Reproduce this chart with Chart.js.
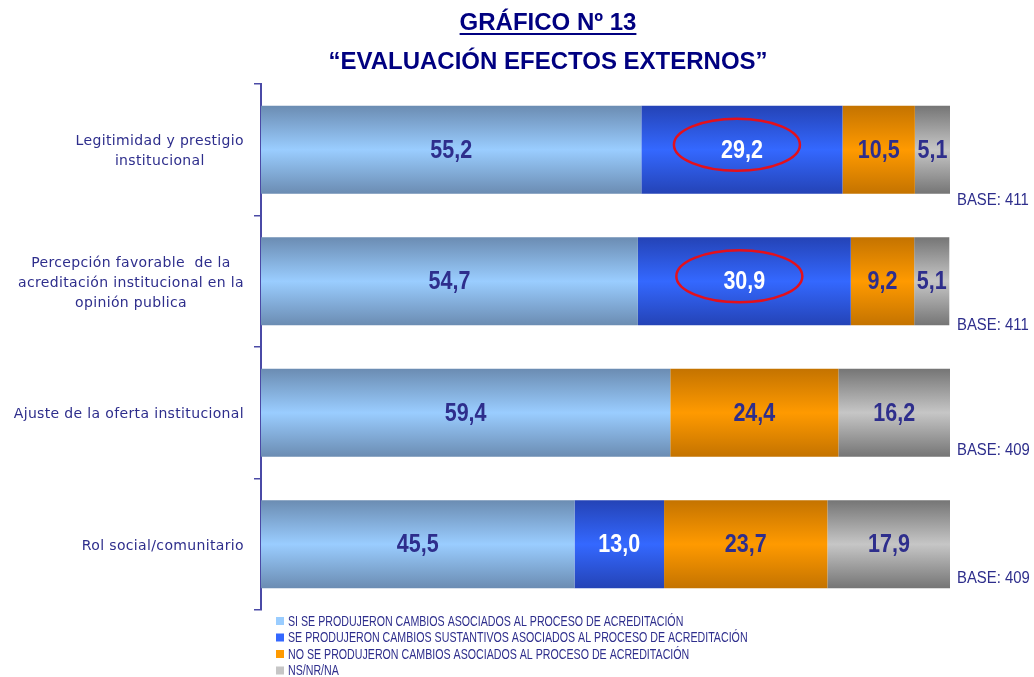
<!DOCTYPE html>
<html>
<head>
<meta charset="utf-8">
<script src="https://cdn.jsdelivr.net/npm/chart.js@4.4.1/dist/chart.umd.min.js"></script>
<style>
  html, body { margin: 0; padding: 0; background: #fff; }
  #wrap { position: relative; width: 1034px; height: 677px; }
</style>
</head>
<body>
<div id="wrap"><canvas id="grafico"></canvas></div>
<script>
// Datos del gráfico
const categorias = [
  ["Legitimidad y prestigio", "institucional"],
  ["Percepción favorable  de la", "acreditación institucional en la", "opinión publica"],
  ["Ajuste de la oferta institucional"],
  ["Rol social/comunitario"]
];
const siCambios = [55.2, 54.7, 59.4, 45.5];
const cambiosSustantivos = [29.2, 30.9, 0, 13.0];
const noCambios = [10.5, 9.2, 24.4, 23.7];
const nsNrNa = [5.1, 5.1, 16.2, 17.9];
const bases = ["BASE: 411", "BASE: 411", "BASE: 409", "BASE: 409"];
const nombresSeries = [
  "SI SE PRODUJERON CAMBIOS ASOCIADOS AL PROCESO DE ACREDITACIÓN",
  "SE PRODUJERON CAMBIOS SUSTANTIVOS ASOCIADOS AL PROCESO DE ACREDITACIÓN",
  "NO SE PRODUJERON CAMBIOS ASOCIADOS AL PROCESO DE ACREDITACIÓN",
  "NS/NR/NA"
];
// [serie, categoría] marcados con elipse roja
const marcados = [[1, 0], [1, 1]];

const titulo1 = "GRÁFICO Nº 13";
const titulo2 = "“EVALUACIÓN EFECTOS EXTERNOS”";

// colores: [borde oscuro, centro claro]
const colores = [
  ["#6b8cb2", "#9acdff"],
  ["#2443b6", "#3468ff"],
  ["#c47300", "#ff9a00"],
  ["#757575", "#c6c6c6"]
];

const AZUL_TEXTO = "#2e2e8c";
const SANS = "'Liberation Sans', Arial, sans-serif";
const BAR_PCT = 0.67;

function gradiente(serie) {
  return (ctx) => {
    const chart = ctx.chart;
    const area = chart.chartArea;
    if (!area) return colores[serie][1];
    const y = chart.scales.y.getPixelForValue(ctx.dataIndex);
    const mitad = (area.height / categorias.length) * BAR_PCT / 2;
    const g = chart.ctx.createLinearGradient(0, y - mitad, 0, y + mitad);
    g.addColorStop(0, colores[serie][0]);
    g.addColorStop(0.5, colores[serie][1]);
    g.addColorStop(1, colores[serie][0]);
    return g;
  };
}

const fmt = (v) => v.toFixed(1).replace(".", ",");

// texto estrecho (simula Arial Narrow)
function textoEstrecho(ctx, texto, x, y, sx) {
  ctx.save();
  ctx.translate(x, y);
  ctx.scale(sx, 1);
  ctx.fillText(texto, 0, 0);
  ctx.restore();
}

// Plugin: etiquetas, elipses, bases, títulos y leyenda
const adornos = {
  id: "adornos",
  afterDatasetsDraw(chart) {
    const ctx = chart.ctx;
    const area = chart.chartArea;
    ctx.save();

    // valores dentro de las barras
    ctx.font = "bold 25px " + SANS;
    ctx.textAlign = "center";
    ctx.textBaseline = "middle";
    chart.data.datasets.forEach((ds, i) => {
      const meta = chart.getDatasetMeta(i);
      meta.data.forEach((bar, j) => {
        const v = ds.data[j];
        if (!v) return;
        const p = bar.getProps(["x", "y", "base"], true);
        ctx.fillStyle = i === 1 ? "#ffffff" : AZUL_TEXTO;
        textoEstrecho(ctx, fmt(v), (p.x + p.base) / 2, p.y + 1, 0.86);
      });
    });

    // elipses rojas
    ctx.strokeStyle = "#e3101c";
    ctx.lineWidth = 2.5;
    marcados.forEach(([i, j]) => {
      const p = chart.getDatasetMeta(i).data[j].getProps(["x", "y", "base"], true);
      ctx.beginPath();
      ctx.ellipse((p.x + p.base) / 2 - 5, p.y - 5, 63, 26, 0, 0, Math.PI * 2);
      ctx.stroke();
    });

    // bases
    const despl = [7, 0, -6, -10];
    ctx.font = "16px " + SANS;
    ctx.textAlign = "left";
    ctx.fillStyle = AZUL_TEXTO;
    const mitad = (area.height / categorias.length) * BAR_PCT / 2;
    bases.forEach((b, j) => {
      const y = chart.scales.y.getPixelForValue(j) + mitad + despl[j];
      textoEstrecho(ctx, b, area.right + 7, y, 0.93);
    });

    // etiquetas del eje Y (líneas centradas dentro del bloque)
    ctx.font = "14px 'DejaVu Sans', sans-serif";
    ctx.letterSpacing = "0.35px";
    ctx.fillStyle = AZUL_TEXTO;
    ctx.textAlign = "center";
    const finX = area.left - 17;
    categorias.forEach((lineas, j) => {
      const anchos = lineas.map((l) => ctx.measureText(l).width);
      const cx = finX - Math.max(...anchos) / 2;
      const cy = chart.scales.y.getPixelForValue(j) + 2;
      const alto = 20;
      lineas.forEach((l, k) => {
        ctx.fillText(l, cx, cy + (k - (lineas.length - 1) / 2) * alto);
      });
    });
    ctx.letterSpacing = "0px";

    // títulos
    const cxT = 548;
    ctx.fillStyle = "#000080";
    ctx.font = "bold 24px " + SANS;
    ctx.fillText(titulo1, cxT, 23);
    const w1 = ctx.measureText(titulo1).width;
    ctx.fillRect(cxT - w1 / 2, 33, w1, 2);
    ctx.fillText(titulo2, cxT, 62);

    // leyenda
    ctx.font = "14px " + SANS;
    ctx.textAlign = "left";
    nombresSeries.forEach((n, i) => {
      const y = 621 + i * 16.5;
      ctx.fillStyle = colores[i][1];
      ctx.fillRect(276, y - 4, 8, 8);
      ctx.fillStyle = AZUL_TEXTO;
      textoEstrecho(ctx, n, 288, y + 1, 0.76);
    });

    ctx.restore();
  }
};

const series = [siCambios, cambiosSustantivos, noCambios, nsNrNa];

new Chart(document.getElementById("grafico"), {
  type: "bar",
  data: {
    labels: categorias.map((c) => c.join(" ")),
    datasets: series.map((s, i) => ({
      label: nombresSeries[i],
      data: s,
      backgroundColor: gradiente(i),
      borderWidth: 0,
      barPercentage: BAR_PCT,
      categoryPercentage: 1
    }))
  },
  options: {
    indexAxis: "y",
    responsive: true,
    maintainAspectRatio: false,
    animation: false,
    layout: { padding: { top: 84, right: 84, bottom: 67, left: 0 } },
    plugins: {
      legend: { display: false },
      tooltip: { enabled: false }
    },
    scales: {
      x: { stacked: true, min: 0, max: 100, display: false },
      y: {
        stacked: true,
        grid: { offset: true, drawOnChartArea: false, tickLength: 7, color: "#4a4aa6", lineWidth: 1.5 },
        border: { color: "#4a4aa6", width: 2 },
        ticks: { display: false },
        afterFit: (scale) => { scale.width = 261; }
      }
    }
  },
  plugins: [adornos]
});
</script>
</body>
</html>
